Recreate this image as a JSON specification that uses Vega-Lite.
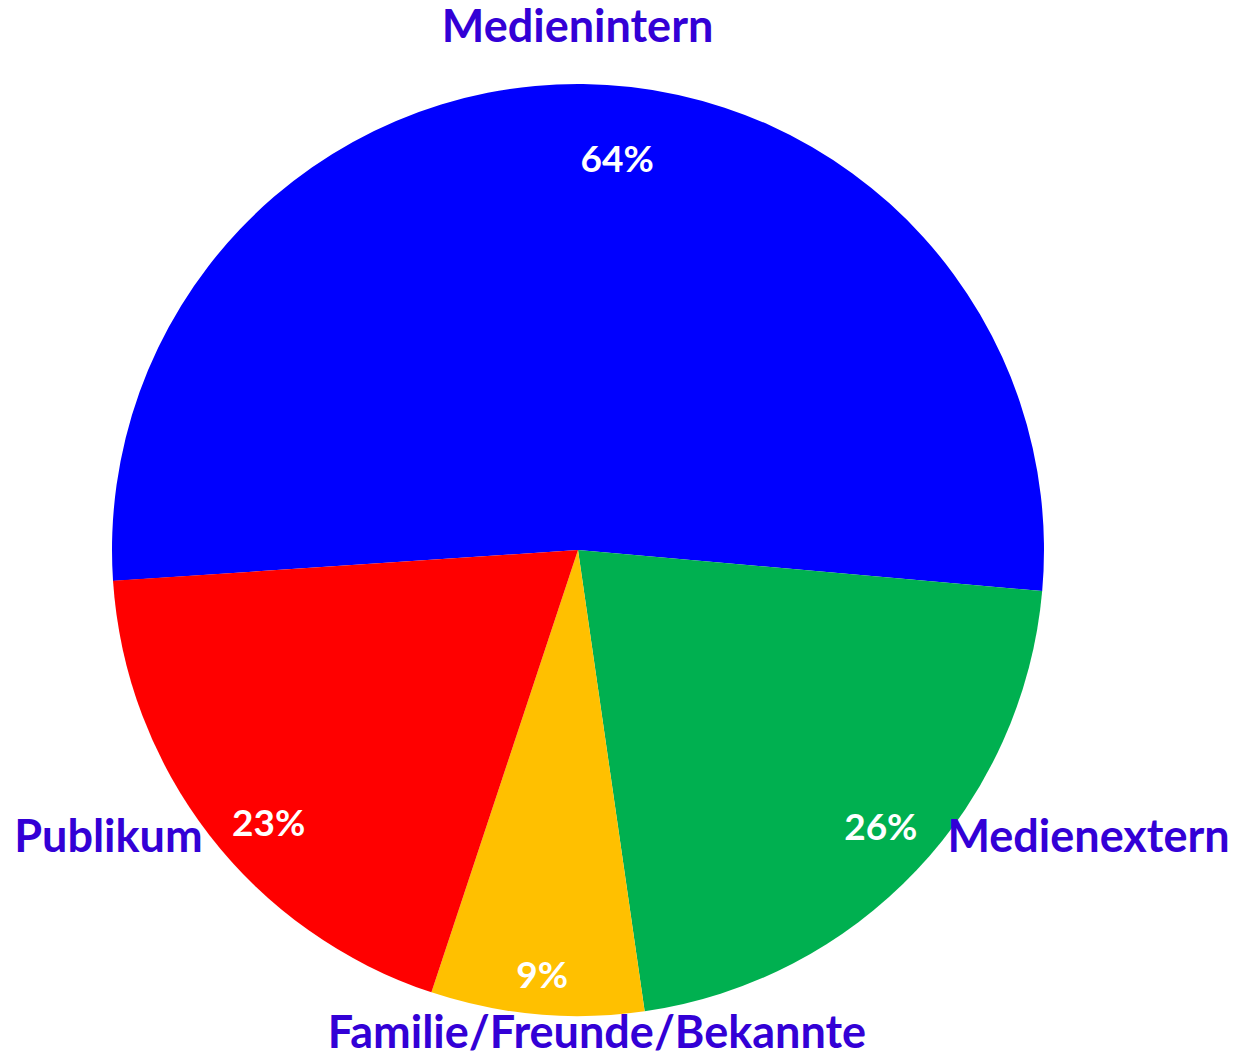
{
  "$schema": "https://vega.github.io/schema/vega-lite/v6.json",
  "width": 1156,
  "height": 1016,
  "autosize": {"type": "none"},
  "padding": {"left": 0, "top": 42, "right": 80, "bottom": 0},
  "background": "white",
  "config": {"view": {"stroke": null}},
  "data": {
    "values": [
      {"cat": "Medienintern", "value": 64, "label": "64%", "idx": 1},
      {"cat": "Medienextern", "value": 26, "label": "26%", "idx": 2},
      {"cat": "Familie/Freunde/Bekannte", "value": 9, "label": "9%", "idx": 3},
      {"cat": "Publikum", "value": 23, "label": "23%", "idx": 4}
    ]
  },
  "encoding": {
    "theta": {"field": "value", "type": "quantitative", "stack": true, "scale": {"range": [-1.6371, 4.6461]}},
    "order": {"field": "idx", "type": "ordinal"},
    "detail": {"field": "cat", "type": "nominal"}
  },
  "layer": [
    {
      "mark": {"type": "arc", "outerRadius": 466, "strokeWidth": 0},
      "encoding": {
        "color": {
          "field": "cat",
          "type": "nominal",
          "scale": {
            "domain": ["Medienintern", "Medienextern", "Familie/Freunde/Bekannte", "Publikum"],
            "range": ["#0000FF", "#00B050", "#FFC000", "#FF0000"]
          },
          "legend": null
        }
      }
    },
    {
      "mark": {"type": "text", "radius": 378, "dx": 35, "dy": 0, "font": "Lato", "fontWeight": "bold", "fontSize": 37, "align": "center", "baseline": "alphabetic"},
      "encoding": {
        "color": {"value": "white"},
        "text": {"field": "label", "type": "nominal", "condition": {"test": "datum.cat !== 'Medienintern'", "value": ""}}
      }
    },
    {
      "mark": {"type": "text", "radius": 410, "dx": 5, "dy": 8, "font": "Lato", "fontWeight": "bold", "fontSize": 37, "align": "center", "baseline": "alphabetic"},
      "encoding": {
        "color": {"value": "white"},
        "text": {"field": "label", "type": "nominal", "condition": {"test": "datum.cat !== 'Medienextern'", "value": ""}}
      }
    },
    {
      "mark": {"type": "text", "radius": 440, "dx": 3, "dy": 0, "font": "Lato", "fontWeight": "bold", "fontSize": 37, "align": "center", "baseline": "alphabetic"},
      "encoding": {
        "color": {"value": "white"},
        "text": {"field": "label", "type": "nominal", "condition": {"test": "datum.cat !== 'Familie/Freunde/Bekannte'", "value": ""}}
      }
    },
    {
      "mark": {"type": "text", "radius": 410, "dx": 15, "dy": 35, "font": "Lato", "fontWeight": "bold", "fontSize": 37, "align": "center", "baseline": "alphabetic"},
      "encoding": {
        "color": {"value": "white"},
        "text": {"field": "label", "type": "nominal", "condition": {"test": "datum.cat !== 'Publikum'", "value": ""}}
      }
    },
    {
      "mark": {"type": "text", "radius": 508, "dx": -6, "dy": 0, "font": "Lato", "fontWeight": "bold", "fontSize": 45, "align": "center", "baseline": "alphabetic"},
      "encoding": {
        "color": {"value": "#3300D6"},
        "text": {"field": "cat", "type": "nominal", "condition": {"test": "datum.cat !== 'Medienintern'", "value": ""}}
      }
    },
    {
      "mark": {"type": "text", "radius": 466, "dx": 172, "dy": -18, "font": "Lato", "fontWeight": "bold", "fontSize": 45, "align": "center", "baseline": "alphabetic"},
      "encoding": {
        "color": {"value": "#3300D6"},
        "text": {"field": "cat", "type": "nominal", "condition": {"test": "datum.cat !== 'Medienextern'", "value": ""}}
      }
    },
    {
      "mark": {"type": "text", "radius": 466, "dx": 60, "dy": 34, "font": "Lato", "fontWeight": "bold", "fontSize": 45, "align": "center", "baseline": "alphabetic"},
      "encoding": {
        "color": {"value": "#3300D6"},
        "text": {"field": "cat", "type": "nominal", "condition": {"test": "datum.cat !== 'Familie/Freunde/Bekannte'", "value": ""}}
      }
    },
    {
      "mark": {"type": "text", "radius": 466, "dx": -101, "dy": 17, "font": "Lato", "fontWeight": "bold", "fontSize": 45, "align": "center", "baseline": "alphabetic"},
      "encoding": {
        "color": {"value": "#3300D6"},
        "text": {"field": "cat", "type": "nominal", "condition": {"test": "datum.cat !== 'Publikum'", "value": ""}}
      }
    }
  ]
}
